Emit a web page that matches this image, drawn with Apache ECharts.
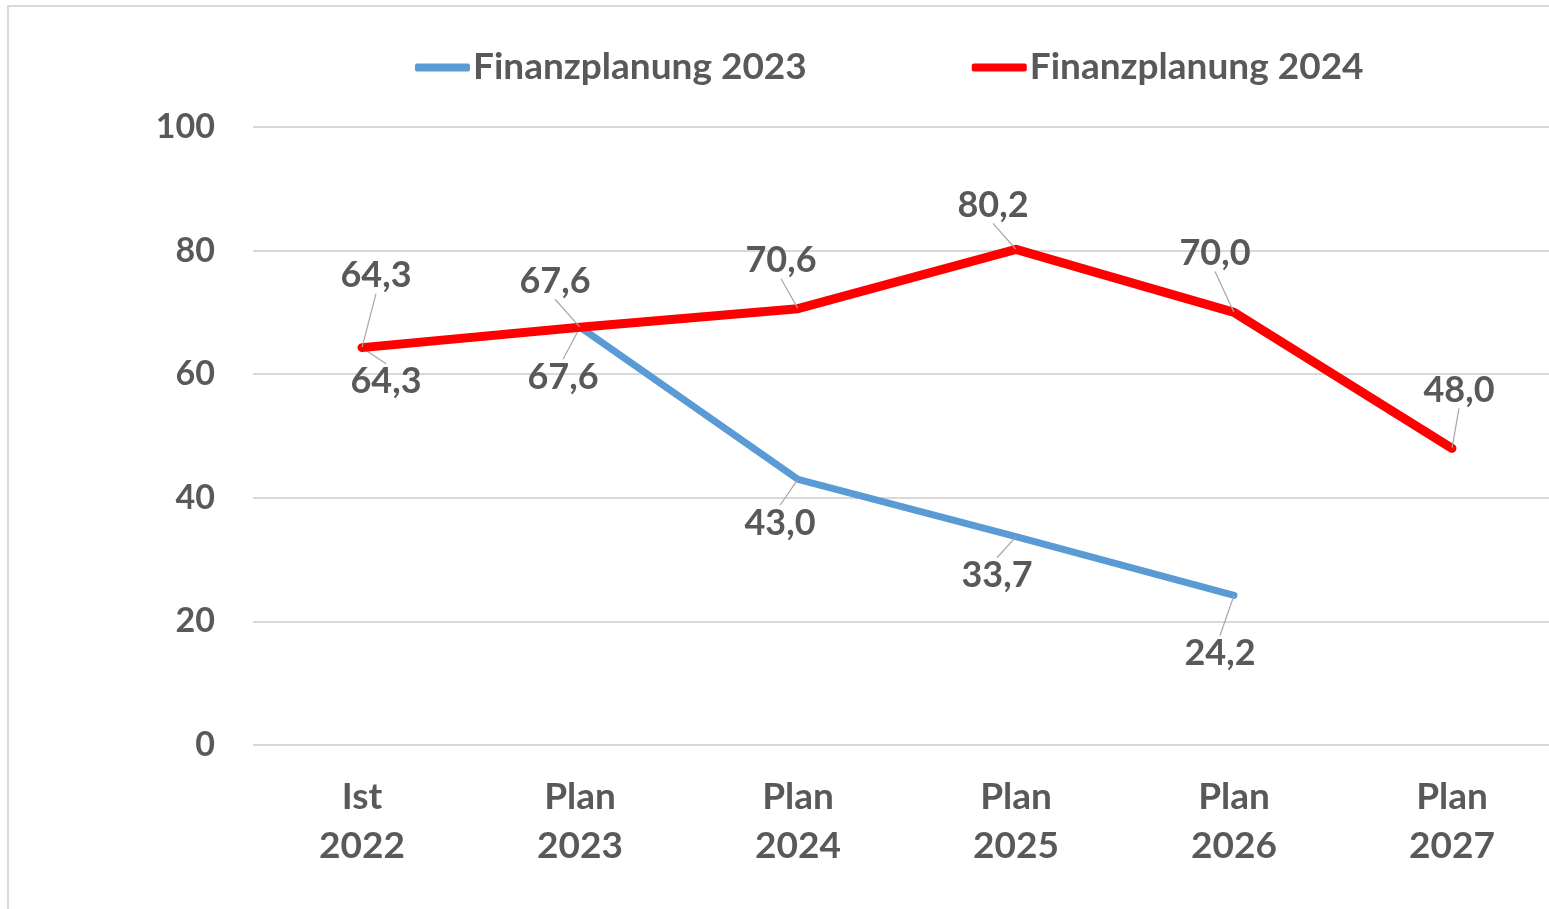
<!DOCTYPE html>
<html>
<head>
<meta charset="utf-8">
<script src="https://cdn.jsdelivr.net/npm/echarts@6/dist/echarts.min.js"></script>
<style>
html,body{margin:0;padding:0;background:#fff;overflow:hidden;}
#c{width:1561px;height:909px;}
</style>
</head>
<body>
<div id="c"></div>
<script>
const categories = ['Ist\n2022', 'Plan\n2023', 'Plan\n2024', 'Plan\n2025', 'Plan\n2026', 'Plan\n2027'];
const seriesNames = ['Finanzplanung 2023', 'Finanzplanung 2024'];
const plan2023 = [64.3, 67.6, 43.0, 33.7, 24.2, null];
const plan2024 = [64.3, 67.6, 70.6, 80.2, 70.0, 48.0];
const yTicks = { min: 0, max: 100, interval: 20 };

// label offsets (style only)
const offs2023 = [[24, 34], [-17, 50], [-18, 44], [-19, 39], [-14, 58], [0, 0]];
const offs2024 = [[14, -72], [-25, -46], [-17, -48], [-23, -44], [-19, -59], [7, -58]];

const FONT = 'Lato';
const TXT = '#595959';
const fmt = v => v.toFixed(1).replace('.', ',');

function makeSeries(name, data, color, width, offs, z) {
  return {
    name: name,
    type: 'line',
    data: data,
    z: z,
    symbol: 'circle',
    symbolSize: 1,
    showSymbol: true,
    itemStyle: { color: color },
    lineStyle: { color: color, width: width, cap: 'round', join: 'round' },
    label: {
      show: true,
      position: 'inside',
      formatter: p => fmt(p.value),
      fontFamily: FONT,
      fontWeight: 'bold',
      fontSize: 36,
      color: TXT
    },
    labelLine: { show: true, lineStyle: { color: '#a6a6a6', width: 1.2 } },
    labelLayout: p => ({ dx: offs[p.dataIndex][0], dy: offs[p.dataIndex][1] }),
    emphasis: { disabled: true },
    animation: false
  };
}

const chart = echarts.init(document.getElementById('c'));
chart.setOption({
  animation: false,
  backgroundColor: '#fff',
  graphic: [{
    type: 'rect',
    shape: { x: 8, y: 6, width: 1700, height: 1100 },
    style: { fill: 'none', stroke: '#d9d9d9', lineWidth: 2 },
    silent: true,
    z: -10
  }],
  legend: {
    left: 410,
    top: 44,
    itemWidth: 55,
    itemHeight: 8,
    itemGap: 165,
    icon: 'roundRect',
    textStyle: { fontFamily: FONT, fontWeight: 'bold', fontSize: 37, color: TXT, padding: [0, 0, 0, -2] },
    data: seriesNames
  },
  grid: { left: 253, top: 127, width: 1308, height: 618, containLabel: false },
  xAxis: {
    type: 'category',
    data: categories,
    boundaryGap: true,
    axisLine: { show: false },
    axisTick: { show: false },
    axisLabel: {
      fontFamily: FONT, fontWeight: 'bold', fontSize: 37, color: TXT,
      lineHeight: 49, margin: 28, interval: 0
    }
  },
  yAxis: {
    type: 'value',
    min: yTicks.min, max: yTicks.max, interval: yTicks.interval,
    axisLine: { show: false },
    axisTick: { show: false },
    axisLabel: { fontFamily: FONT, fontWeight: 'bold', fontSize: 34, color: TXT, margin: 38 },
    splitLine: { lineStyle: { color: '#d9d9d9', width: 2 } }
  },
  series: [
    makeSeries(seriesNames[0], plan2023, '#5b9bd5', 7, offs2023, 2),
    makeSeries(seriesNames[1], plan2024, '#ff0000', 9, offs2024, 3)
  ]
});
</script>
</body>
</html>
